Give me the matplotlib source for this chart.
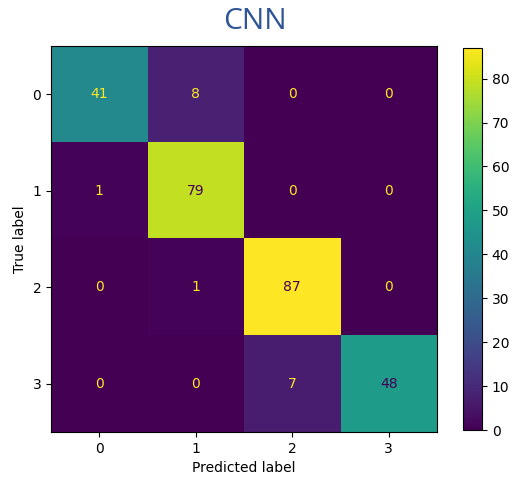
import matplotlib
matplotlib.use("Agg")
import matplotlib.pyplot as plt
import numpy as np

labels = ["0", "1", "2", "3"]
cm = np.array([
    [41, 8, 0, 0],
    [1, 79, 0, 0],
    [0, 1, 87, 0],
    [0, 0, 7, 48],
])

fig = plt.figure(figsize=(5.10, 4.78), dpi=100)
ax = fig.add_axes([0.1, 0.096, 0.757, 0.808])
cax = fig.add_axes([0.908, 0.1, 0.037, 0.8])

cmap = plt.get_cmap("viridis")
im = ax.imshow(cm, cmap=cmap, interpolation="nearest", aspect="auto")
vmin, vmax = cm.min(), cm.max()
thresh = (vmax + vmin) / 2.0
for i in range(cm.shape[0]):
    for j in range(cm.shape[1]):
        c = cmap(0) if cm[i, j] >= thresh else cmap(1.0)
        ax.text(j, i, str(cm[i, j]), ha="center", va="center", color=c, fontsize=10)

ax.set_xticks(range(len(labels)))
ax.set_xticklabels(labels)
ax.set_yticks(range(len(labels)))
ax.set_yticklabels(labels)
ax.set_xlabel("Predicted label")
ax.set_ylabel("True label")

cb = fig.colorbar(im, cax=cax)
cb.set_ticks([0, 10, 20, 30, 40, 50, 60, 70, 80])

fig.text(0.5, 0.956, "CNN", ha="center", va="center", fontsize=21.5,
         color="#2F5597", family=["Open Sans", "DejaVu Sans"])

fig.savefig("out.png", dpi=100)
